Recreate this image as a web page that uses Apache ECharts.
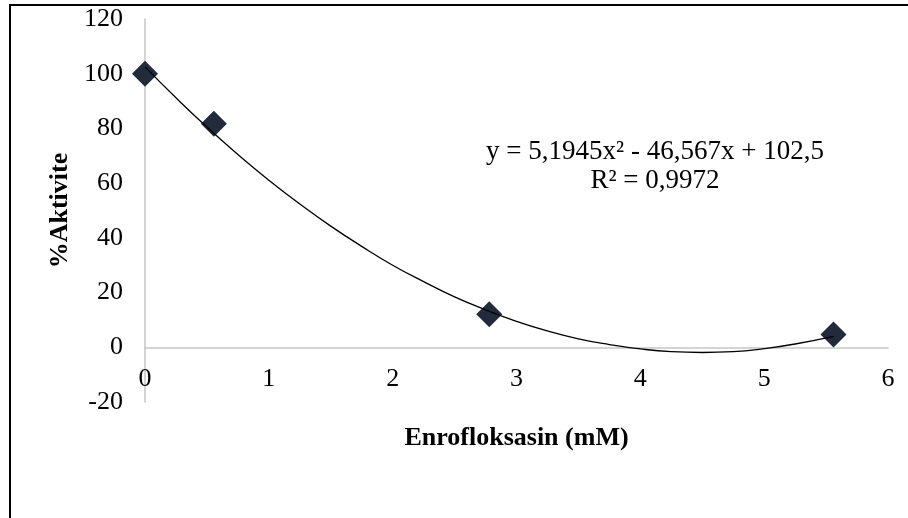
<!DOCTYPE html>
<html>
<head>
<meta charset="utf-8">
<script src="https://cdn.jsdelivr.net/npm/echarts@6/dist/echarts.min.js"></script>
<style>
html,body{margin:0;padding:0;background:#fff;}
#c{width:908px;height:518px;}
</style>
</head>
<body>
<div id="c"></div>
<script>
// Measured points
const concX = [0, 0.556, 2.78, 5.56];
const activity = [100, 81.7, 12.1, 4.7];
// Trendline (x, y)
const trendX = [0, 0.25, 0.5, 0.75, 1, 1.25, 1.5, 1.75, 2, 2.25, 2.5, 2.75, 3, 3.25, 3.5, 3.75, 4, 4.25, 4.5, 4.75, 5, 5.25, 5.56];
const trendY = [102.5, 91.2, 80.5, 70.5, 61.1, 52.4, 44.3, 36.9, 30.0, 24.0, 18.4, 13.7, 9.5, 6.0, 3.1, 1.0, -0.6, -1.6, -1.9, -1.6, -0.5, 1.2, 4.0];
const xTitle = 'Enrofloksasin (mM)';
const yTitle = '%Aktivite';
const eqLine1 = 'y = 5,1945x\u00B2 - 46,567x + 102,5';
const eqLine2 = 'R\u00B2 = 0,9972';

const font = '"Liberation Serif", "Times New Roman", serif';
const chart = echarts.init(document.getElementById('c'));
chart.setOption({
  animation: false,
  backgroundColor: '#fff',
  grid: {left: 145, right: 20, top: 19, bottom: 116},
  xAxis: {
    type: 'value', min: 0, max: 6, interval: 1,
    name: xTitle, nameLocation: 'middle', nameGap: 23,
    nameTextStyle: {fontFamily: font, fontSize: 26, fontWeight: 'bold', color: '#000'},
    axisLine: {show: true, onZero: true, lineStyle: {color: '#c6c6c6', width: 1.5}},
    axisTick: {show: false},
    splitLine: {show: false},
    axisLabel: {fontFamily: font, fontSize: 26, color: '#000', margin: -36}
  },
  yAxis: {
    type: 'value', min: -20, max: 120, interval: 20,
    name: yTitle, nameLocation: 'middle', nameGap: 71, nameRotate: 90,
    nameTextStyle: {fontFamily: font, fontSize: 26, fontWeight: 'bold', color: '#000'},
    axisLine: {show: true, lineStyle: {color: '#c6c6c6', width: 1.5}},
    axisTick: {show: false},
    splitLine: {show: false},
    axisLabel: {fontFamily: font, fontSize: 26, color: '#000', margin: 22}
  },
  series: [
    {
      type: 'line',
      data: trendX.map((x, i) => [x, trendY[i]]),
      smooth: true,
      showSymbol: false,
      symbol: 'none',
      lineStyle: {color: '#000', width: 1.3},
      z: 3
    },
    {
      type: 'scatter',
      data: concX.map((x, i) => [x, activity[i]]),
      symbol: 'diamond',
      symbolSize: 26,
      itemStyle: {color: '#222b3b', opacity: 1},
      z: 2
    }
  ],
  graphic: [
    {type: 'rect', shape: {x: 10, y: 5, width: 1000, height: 1000}, style: {fill: null, stroke: '#000', lineWidth: 2}, z: 100, silent: true},
    {type: 'text', x: 655, y: 152, style: {text: eqLine1, font: '27px ' + font, fill: '#000', textAlign: 'center', textVerticalAlign: 'middle'}},
    {type: 'text', x: 655, y: 181, style: {text: eqLine2, font: '27px ' + font, fill: '#000', textAlign: 'center', textVerticalAlign: 'middle'}}
  ]
});
</script>
</body>
</html>
